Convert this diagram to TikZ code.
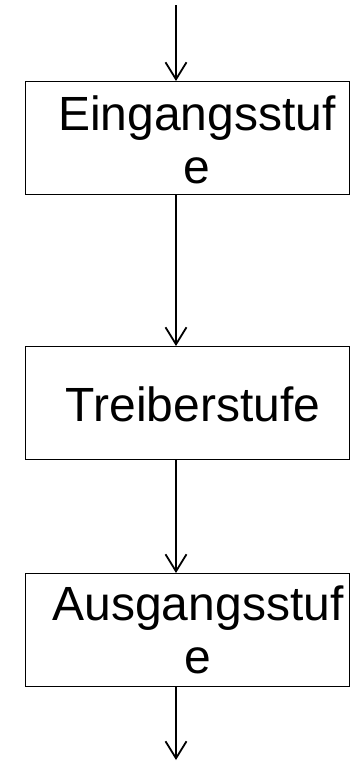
\documentclass[tikz,border=0pt]{standalone}
\usepackage{fontspec}
\setmainfont{Liberation Sans}
\usetikzlibrary{arrows.meta}
\begin{document}
\begin{tikzpicture}[x=1pt,y=-1pt,
  stagebox/.style={draw=black,line width=1.3pt,minimum width=324pt,minimum height=113pt,inner sep=0pt,anchor=north west},
  stagetext/.style={font=\fontsize{48}{53}\selectfont,align=center,inner sep=0pt},
  flow/.style={line width=1.8pt,-{Straight Barb[length=17pt,width=21pt,line width=1.8pt]}}]
\useasboundingbox (0,0) rectangle (350,761);
\node[stagebox] (b1) at (25,81) {};
\node[stagebox] (b2) at (25,346) {};
\node[stagebox] (b3) at (25,573) {};
\node[stagetext,anchor=base] (t1) at (197,183) {Eingangsstuf\\e};
\node[stagetext,anchor=base] (t2) at (193,421) {Treiberstufe};
\node[stagetext,anchor=base] (t3) at (198,673) {Ausgangsstuf\\e};
\coordinate (in) at (176,5);
\coordinate (out) at (176,760);
\draw[flow] (in) -- (b1.north west -| in);
\draw[flow] (b1.south west -| in) -- (b2.north west -| in);
\draw[flow] (b2.south west -| in) -- (b3.north west -| in);
\draw[flow] (b3.south west -| in) -- (out);
\end{tikzpicture}
\end{document}
